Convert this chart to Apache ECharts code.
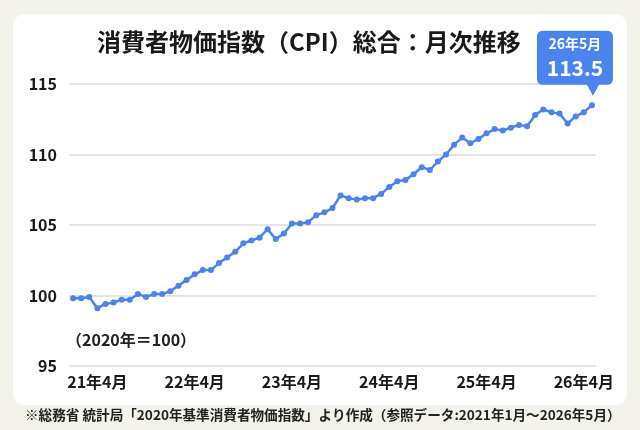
<!DOCTYPE html>
<html><head><meta charset="utf-8">
<script src="https://cdn.jsdelivr.net/npm/echarts@6/dist/echarts.min.js"></script>
<style>
html,body{margin:0;padding:0;background:#f4f3eb;}
#c{width:640px;height:430px;}
</style></head>
<body><div id="c"></div>
<script>
const months = [
 '21年1月','21年2月','21年3月','21年4月','21年5月','21年6月','21年7月','21年8月','21年9月','21年10月','21年11月','21年12月',
 '22年1月','22年2月','22年3月','22年4月','22年5月','22年6月','22年7月','22年8月','22年9月','22年10月','22年11月','22年12月',
 '23年1月','23年2月','23年3月','23年4月','23年5月','23年6月','23年7月','23年8月','23年9月','23年10月','23年11月','23年12月',
 '24年1月','24年2月','24年3月','24年4月','24年5月','24年6月','24年7月','24年8月','24年9月','24年10月','24年11月','24年12月',
 '25年1月','25年2月','25年3月','25年4月','25年5月','25年6月','25年7月','25年8月','25年9月','25年10月','25年11月','25年12月',
 '26年1月','26年2月','26年3月','26年4月','26年5月'
];
const cpi2021 = [99.8,99.8,99.9,99.1,99.4,99.5,99.7,99.7,100.1,99.9,100.1,100.1];
const cpi2022 = [100.3,100.7,101.1,101.5,101.8,101.8,102.3,102.7,103.1,103.7,103.9,104.1];
const cpi2023 = [104.7,104.0,104.4,105.1,105.1,105.2,105.7,105.9,106.2,107.1,106.9,106.8];
const cpi2024 = [106.9,106.9,107.2,107.7,108.1,108.2,108.6,109.1,108.9,109.5,110.0,110.7];
const cpi2025 = [111.2,110.8,111.1,111.5,111.8,111.7,111.9,112.1,112.0,112.8,113.2,113.0];
const cpi2026 = [112.9,112.2,112.7,113.0,113.5];
const yTicks = [95,100,105,110,115];
const titleText = '消費者物価指数（CPI）総合：月次推移';
const baseNote = '（2020年＝100）';
const sourceNote = '※総務省 統計局「2020年基準消費者物価指数」より作成（参照データ:2021年1月〜2026年5月）';

const cpi = [].concat(cpi2021,cpi2022,cpi2023,cpi2024,cpi2025,cpi2026);
const lastIdx = cpi.length - 1;
const FONT = '"Noto Sans CJK JP","Noto Sans",sans-serif';
const BLUE = '#4a84ee';

const chart = echarts.init(document.getElementById('c'), null, {renderer:'canvas'});
chart.setOption({
  backgroundColor: '#f4f3eb',
  animation: false,
  textStyle: {fontFamily: FONT},
  graphic: [
    {type:'rect', left:13, top:14, z:-10, shape:{width:614, height:391, r:12}, style:{fill:'#ffffff'}},
    {type:'text', left:97, top:30, z:10, style:{text:titleText, fill:'#1a1a1a', font:'bold 24px '+FONT}},
    {type:'text', left:66, top:332, z:10, style:{text:baseNote, fill:'#222', font:'bold 16px '+FONT}},
    {type:'text', left:25, top:408, z:10, style:{text:sourceNote, fill:'#222', font:'bold 13.6px '+FONT}}
  ],
  grid: {left:69, right:44, top:84, bottom:64},
  xAxis: {
    type:'category', data: months, boundaryGap:true,
    axisLine:{show:false}, axisTick:{show:false},
    axisLabel:{
      interval: function(i){ return i % 12 === 3; },
      color:'#1a1a1a', fontSize:16, fontWeight:'bold', margin:8, fontFamily: FONT
    }
  },
  yAxis: {
    type:'value', min: yTicks[0], max: yTicks[yTicks.length-1], interval:5,
    axisLine:{show:false}, axisTick:{show:false},
    axisLabel:{color:'#1a1a1a', fontSize:16, fontWeight:'bold', margin:12, fontFamily: FONT},
    splitLine:{lineStyle:{color:'#dcdcdc', width:1.5}}
  },
  series: [{
    type:'line', data: cpi,
    symbol:'circle', symbolSize:6, showSymbol:true, showAllSymbol:true,
    lineStyle:{color:BLUE, width:2.5},
    itemStyle:{color:BLUE},
    markPoint: {
      symbol: 'path://M6,0 H70 Q76,0 76,6 V48 Q76,54 70,54 H62 L56,65 L50,54 H6 Q0,54 0,48 V6 Q0,0 6,0 Z',
      symbolSize:[76,65], symbolKeepAspect:false,
      symbolOffset:[-17,-42],
      itemStyle:{color:BLUE},
      label:{
        show:true, position:'inside', offset:[0,-6],
        formatter: function(){ return '{a|' + months[lastIdx] + '}\n{b|' + cpi[lastIdx].toFixed(1) + '}'; },
        rich:{
          a:{color:'#fff', fontSize:14, fontWeight:'bold', fontFamily:FONT, lineHeight:22, align:'center'},
          b:{color:'#fff', fontSize:21, fontWeight:'bold', fontFamily:FONT, lineHeight:26, align:'center'}
        }
      },
      data:[{coord:[lastIdx, cpi[lastIdx]]}]
    }
  }]
});
</script></body></html>
